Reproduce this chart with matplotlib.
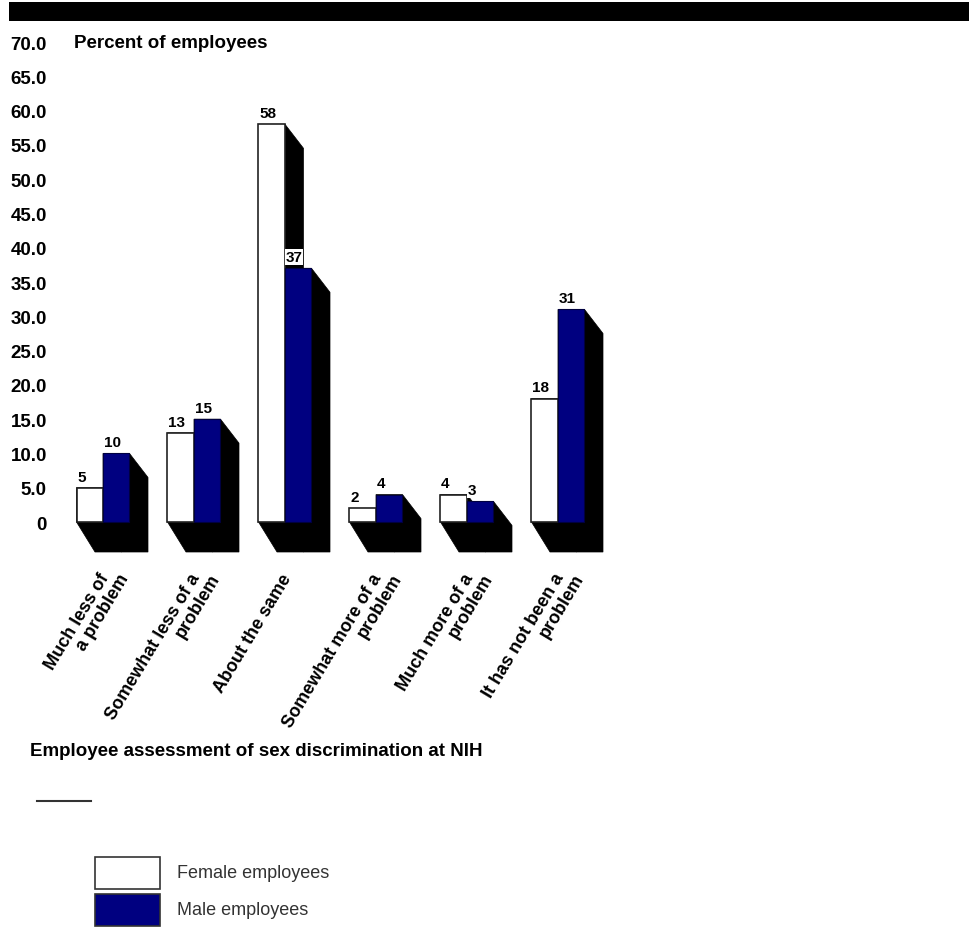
import matplotlib
matplotlib.use("Agg")
import matplotlib.pyplot as plt
from matplotlib.patches import Rectangle, Polygon
from matplotlib.transforms import offset_copy
import numpy as np

categories = ["Much less of\na problem", "Somewhat less of a\nproblem", "About the same",
              "Somewhat more of a\nproblem", "Much more of a\nproblem", "It has not been a\nproblem"]
female = [5, 13, 58, 2, 4, 18]
male = [10, 15, 37, 4, 3, 31]
yticks = [0, 5, 10, 15, 20, 25, 30, 35, 40, 45, 50, 55, 60, 65, 70]
ytick_labels = ["0"] + [f"{v:.1f}" for v in yticks[1:]]
series_names = ["Female employees", "Male employees"]

W, H = 969, 928
plt.rcParams['font.family'] = ['Liberation Sans', 'DejaVu Sans']
fig = plt.figure(figsize=(W / 100, H / 100), dpi=100)

# axes placement (pixels)
ax_l, ax_r, ax_t, ax_b = 65, 620, 43, 523
ax = fig.add_axes([ax_l / W, (H - ax_b) / H, (ax_r - ax_l) / W, (ax_b - ax_t) / H])
px_per_cat = 91.0
c0 = 103.0
ax.set_xlim((ax_l - c0) / px_per_cat, (ax_r - c0) / px_per_cat)
ax.set_ylim(0, 70)
for s in ax.spines.values():
    s.set_visible(False)
ax.set_xticks([])
ax.set_yticks(yticks)
ax.set_yticklabels(ytick_labels, fontsize=13.5, fontweight='bold')
ax.tick_params(axis='y', length=0, pad=13)

bw = 26.5 / px_per_cat
dx = 18.5 / px_per_cat
unit_px = (ax_b - ax_t) / 70.0
dys = 24 / unit_px
dyb = 30 / unit_px

x = np.arange(len(categories))
navy = "#000080"

# shadows
for i in range(len(categories)):
    for j, vals in enumerate([female, male]):
        xl = x[i] - bw if j == 0 else x[i]
        xr = xl + bw
        h = vals[i]
        poly = Polygon([(xl, 0), (xl + dx, -dyb), (xr + dx, -dyb),
                        (xr + dx, h - dys), (xr, h), (xl, h)],
                       closed=True, facecolor='black', edgecolor='black',
                       lw=0.5, clip_on=False, zorder=1)
        ax.add_patch(poly)

ax.bar(x - bw / 2, female, width=bw, color='white', edgecolor='#222222', lw=1.2, zorder=3, clip_on=False)
ax.bar(x + bw / 2, male, width=bw, color=navy, edgecolor='#000040', lw=0.8, zorder=3, clip_on=False)

for i in range(len(categories)):
    for j, vals in enumerate([female, male]):
        xl = x[i] - bw if j == 0 else x[i]
        ax.annotate(str(vals[i]), (xl, vals[i]), xytext=(0.5, 3), textcoords='offset points',
                    ha='left', va='bottom', fontsize=11, fontweight='bold', zorder=5,
                    bbox=dict(facecolor='white', edgecolor='none', pad=0.5))

# category labels: each line ends on the same horizontal level
label_y = -(571 - ax_b) / unit_px
ang = 59
for i, c in enumerate(categories):
    for k, line in enumerate(c.split("\n")):
        tr = offset_copy(ax.transData, fig=fig, x=(-5 + k * 20) * 0.72, y=0, units='points')
        ax.text(x[i], label_y, line, rotation=ang, rotation_mode='anchor',
                ha='right', va='top', fontsize=13, fontweight='bold',
                clip_on=False, transform=tr)

# top black band
fig.patches.append(Rectangle((9 / W, (H - 22) / H), 1 - 9 / W, 19 / H, transform=fig.transFigure,
                             facecolor='black', edgecolor='none'))

fig.text(74 / W, (H - 43) / H, "Percent of employees", fontsize=13.5, fontweight='bold',
         ha='left', va='center')
fig.text(30 / W, (H - 752) / H, "Employee assessment of sex discrimination at NIH", fontsize=13.5,
         fontweight='bold', ha='left', va='center')

fig.lines.append(plt.Line2D([37 / W, 91 / W], [(H - 802) / H, (H - 802) / H], transform=fig.transFigure,
                            color='#333333', lw=1.5))

# legend
for k, (name, col) in enumerate(zip(series_names, ['white', navy])):
    top = 858 + k * 37
    fig.patches.append(Rectangle((95 / W, (H - top - 32) / H), 65 / W, 32 / H, transform=fig.transFigure,
                                 facecolor=col, edgecolor='#333333', lw=1.2))
    fig.text(177 / W, (H - top - 16) / H, name, fontsize=13, color='#333333', ha='left', va='center')

fig.savefig("out.png", dpi=100)
